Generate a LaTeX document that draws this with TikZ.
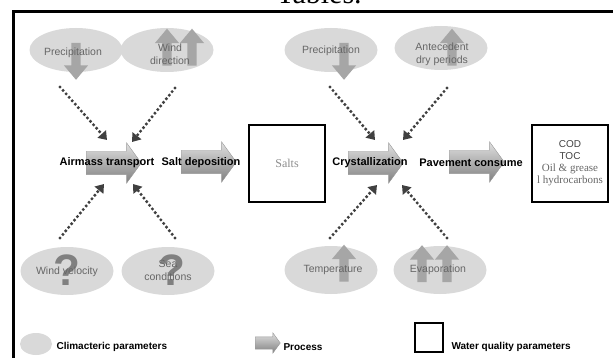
\documentclass[tikz,border=0pt]{standalone}
\usepackage{fontspec}
\setmainfont{Liberation Sans}
\newfontfamily\serifface{Liberation Serif}
\usetikzlibrary{arrows.meta}
\usetikzlibrary{shapes.geometric}
\usetikzlibrary{shapes.arrows}

\begin{document}
\begin{tikzpicture}[x=1pt,y=-1pt,
    climate/.style={ellipse, fill=black!15, inner sep=0pt, minimum width=93pt, minimum height=44pt},
    climtext/.style={text=black!60, font=\fontsize{10.5}{13}\selectfont, align=center},
    bigarrow/.style={single arrow, fill=black!35, inner sep=4.5pt, minimum height=37pt,
        single arrow head extend=7.5pt, single arrow tip angle=80},
    qmark/.style={text=black!50, font=\bfseries\fontsize{44}{44}\selectfont},
    process/.style={single arrow, top color=black!12, bottom color=black!50, draw=black!40, inner sep=11.5pt,
        minimum height=55pt, single arrow head extend=8.5pt, single arrow tip angle=108},
    proclabel/.style={font=\bfseries\fontsize{11}{12}\selectfont},
    wqbox/.style={draw, line width=1.4pt, minimum width=76pt, minimum height=77pt, inner sep=0pt},
    dotarrow/.style={draw=black!75, line width=3.4pt, line cap=round, dash pattern=on 0pt off 4.6pt,
        -{Triangle[length=8pt,width=11pt]}},
    legtext/.style={anchor=west, font=\bfseries\fontsize{10}{11}\selectfont}
    ]
    \useasboundingbox (0,0) rectangle (613,358);
    \clip (0,0) rectangle (613,358);
    \node[anchor=base, font=\serifface\fontsize{30}{30}\selectfont] (caption) at (319,4) {Tables.};
    \draw[line width=2.6pt] (13.3,11.5) rectangle (640,390);

    \node[climate] (prec1) at (76,50) {};
    \node[climate] (winddir) at (167,50) {};
    \node[climate] (prec2) at (331,50) {};
    \node[climate] (antec) at (441,48) {};
    \node[climate, minimum height=48pt] (windvel) at (67,271) {};
    \node[climate, minimum height=48pt] (seacond) at (168,271) {};
    \node[climate, minimum height=48pt] (temp) at (331,270) {};
    \node[climate, minimum height=48pt] (evap) at (440,270) {};

    \node[bigarrow, shape border rotate=270] (prec1arr) at (76,58.5) {};
    \node[bigarrow, shape border rotate=90] (winddirarr1) at (167,50) {};
    \node[bigarrow, shape border rotate=90] (winddirarr2) at (192,50) {};
    \node[bigarrow, shape border rotate=270] (prec2arr) at (344,58.5) {};
    \node[bigarrow, shape border rotate=90] (antecarr) at (452,50) {};
    \node[bigarrow, shape border rotate=90] (temparr) at (344,266) {};
    \node[bigarrow, shape border rotate=90] (evaparr1) at (422,266.5) {};
    \node[bigarrow, shape border rotate=90] (evaparr2) at (447,266.5) {};
    \node[qmark] (windvelq) at (67,270) {?};
    \node[qmark] (seacondq) at (172,270) {?};

    \node[climtext] (prec1txt) at (73,53) {Precipitation};
    \node[climtext] (winddirtxt) at (170,54) {Wind\\direction};
    \node[climtext] (prec2txt) at (331,51) {Precipitation};
    \node[climtext] (antectxt) at (442,54) {Antecedent\\dry periods};
    \node[climtext] (windveltxt) at (67,272) {Wind velocity};
    \node[climtext] (seacondtxt) at (168,270) {Sea\\conditions};
    \node[climtext] (temptxt) at (333,270) {Temperature};
    \node[climtext] (evaptxt) at (438,270) {Evaporation};

    \node[process] (airmass) at (109.5,163) {};
    \node[process] (saltdep) at (204.5,162) {};
    \node[process] (cryst) at (371.5,163) {};
    \node[process] (pavement) at (472.5,162) {};
    \node[proclabel] (airmasstxt) at (107,163) {Airmass transport};
    \node[proclabel] (saltdeptxt) at (201,163) {Salt deposition};
    \node[proclabel] (crysttxt) at (370,163) {Crystallization};
    \node[proclabel] (pavementtxt) at (471,163) {Pavement consume};

    \node[wqbox] (salts) at (287,163.5) {\serifface\color{black!45}\fontsize{12}{14}\selectfont Salts};
    \node[wqbox, align=center] (quality) at (570,163.5) {\color{black!75}\fontsize{10}{15}\selectfont COD\\
        \color{black!75}\fontsize{10}{15}\selectfont TOC\\
        \serifface\color{black!60}\fontsize{11}{16}\selectfont Oil \& grease\\
        \serifface\color{black!60}\fontsize{11}{16}\selectfont l hydrocarbons};

    \coordinate (d1s) at (60,87);
    \coordinate (d1e) at (107,140);
    \coordinate (d2s) at (175,88);
    \coordinate (d2e) at (132,142);
    \coordinate (d3s) at (60,238);
    \coordinate (d3e) at (104,184);
    \coordinate (d4s) at (175,238);
    \coordinate (d4e) at (133,184);
    \coordinate (d5s) at (330,87);
    \coordinate (d5e) at (375,140);
    \coordinate (d6s) at (447,88);
    \coordinate (d6e) at (403,140);
    \coordinate (d7s) at (330,238);
    \coordinate (d7e) at (377,185);
    \coordinate (d8s) at (447,238);
    \coordinate (d8e) at (402,185);
    \foreach \i in {1,...,8}
        \draw[dotarrow] (d\i s) -- (d\i e);

    \node[climate, minimum width=32pt, minimum height=22pt] (legclimate) at (36,344) {};
    \node[legtext] (legclimatetxt) at (53,347) {Climacteric parameters};
    \node[process, inner sep=6pt, minimum height=25pt, single arrow head extend=4pt] (legprocess) at (265.5,343) {};
    \node[legtext] (legprocesstxt) at (280,347) {Process};
    \node[wqbox, minimum width=28pt, minimum height=29pt] (legquality) at (429,337.5) {};
    \node[legtext] (legqualitytxt) at (448,347) {Water quality parameters};
\end{tikzpicture}
\end{document}
